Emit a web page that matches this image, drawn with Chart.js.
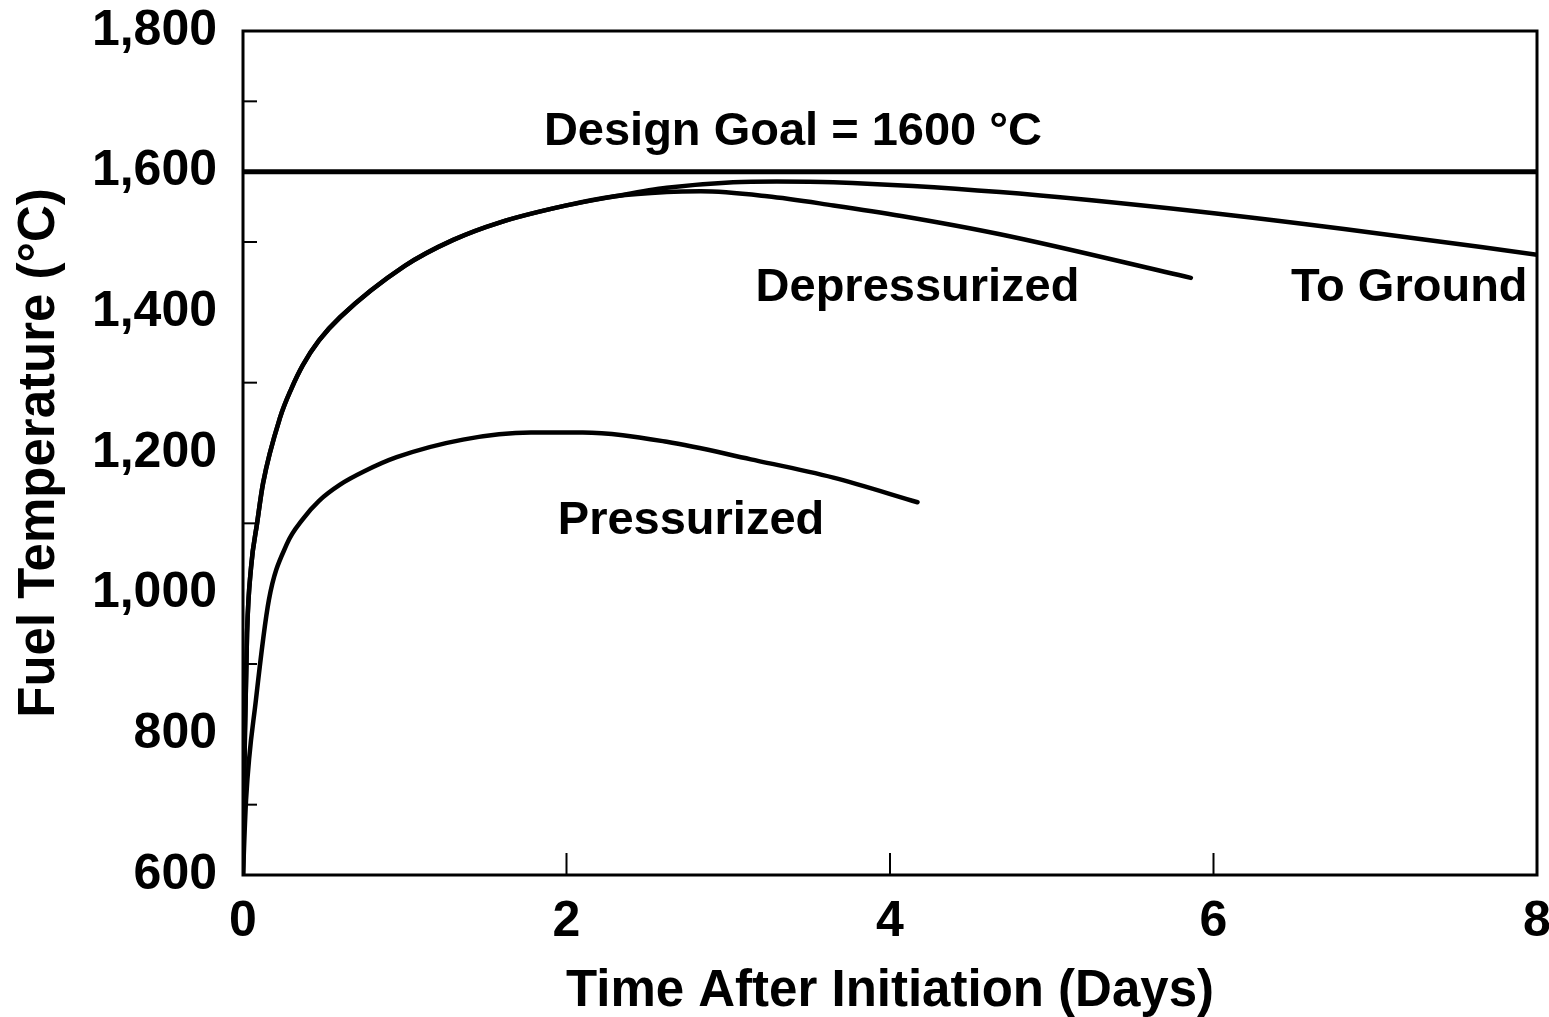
<!DOCTYPE html>
<html>
<head>
<meta charset="utf-8">
<script src="https://cdn.jsdelivr.net/npm/chart.js@4/dist/chart.umd.min.js"></script>
<style>
  html, body { margin: 0; padding: 0; background: #fff; }
  #wrap { width: 1549px; height: 1017px; position: relative; }
</style>
</head>
<body>
<div id="wrap"><canvas id="c" width="1549" height="1017"></canvas></div>
<script>
// ---- data ----
const goalDays = [0, 8];
const goalTemp = [1600, 1600];

const toGroundDays = [0, 0.006, 0.012, 0.025, 0.05, 0.087, 0.124, 0.23, 0.3, 0.37, 0.47, 0.6, 1.0, 1.3, 1.59, 2.0, 2.3, 2.62, 3.03, 3.3, 3.65, 4.68, 5.92, 6.96, 8.0];
const toGroundTemp = [600, 707, 802, 944, 1038, 1100, 1157, 1251, 1292, 1325, 1360, 1393, 1466, 1503, 1528, 1552, 1565, 1577, 1585, 1586, 1585, 1571, 1543, 1514, 1482];

const depressDays = [0, 0.006, 0.012, 0.025, 0.05, 0.087, 0.124, 0.23, 0.3, 0.37, 0.47, 0.6, 1.0, 1.3, 1.59, 2.0, 2.3, 2.62, 2.83, 3.24, 3.65, 4.07, 4.68, 5.86];
const depressTemp = [600, 707, 802, 944, 1038, 1100, 1157, 1251, 1292, 1325, 1360, 1393, 1466, 1503, 1528, 1552, 1565, 1571, 1572, 1565, 1552, 1537, 1511, 1449];

const pressDays = [0, 0.019, 0.08, 0.16, 0.27, 0.37, 0.47, 0.6, 0.75, 0.95, 1.36, 1.78, 2.1, 2.62, 3.14, 3.65, 4.17];
const pressTemp = [600, 707, 849, 991, 1070, 1106, 1132, 1155, 1174, 1194, 1219, 1229, 1229, 1216, 1191, 1165, 1130];

const xTickValues = [0, 2, 4, 6, 8];
const xInnerTicks = [2, 4, 6];
const yTickValues = [600, 800, 1000, 1200, 1400, 1600, 1800];
const yMinorTicks = [700, 900, 1100, 1300, 1500, 1700];

const labelTexts = ["Design Goal = 1600 °C", "Depressurized", "To Ground", "Pressurized"];
const labelDays = [3.40, 4.17, 7.21, 2.77];
const labelTemps = [1656, 1435, 1435, 1103];

const xTitle = "Time After Initiation (Days)";
const yTitle = "Fuel Temperature (°C)";

// ---- build ----
const FONT = "'Liberation Sans', Arial, Helvetica, sans-serif";
function pts(xs, ys) { return xs.map((x, i) => ({ x: x, y: ys[i] })); }

const framePlugin = {
  id: 'frame',
  afterDatasetsDraw(chart) {
    const { ctx, chartArea: a, scales } = chart;
    ctx.save();
    ctx.strokeStyle = '#000';
    ctx.lineWidth = 2;
    yMinorTicks.forEach(v => {
      const y = scales.y.getPixelForValue(v);
      ctx.beginPath(); ctx.moveTo(a.left, y); ctx.lineTo(a.left + 14, y); ctx.stroke();
    });
    xInnerTicks.forEach(v => {
      const x = scales.x.getPixelForValue(v);
      ctx.beginPath(); ctx.moveTo(x, a.bottom); ctx.lineTo(x, a.bottom - 22); ctx.stroke();
    });
    ctx.lineWidth = 3;
    ctx.strokeRect(a.left, a.top, a.right - a.left, a.bottom - a.top);
    ctx.fillStyle = '#000';
    ctx.font = 'bold 47px ' + FONT;
    ctx.textAlign = 'center';
    ctx.textBaseline = 'middle';
    labelTexts.forEach((t, i) => {
      ctx.fillText(t, scales.x.getPixelForValue(labelDays[i]), scales.y.getPixelForValue(labelTemps[i]));
    });
    ctx.restore();
  }
};

const lineDefaults = { borderColor: '#000', pointRadius: 0, fill: false, cubicInterpolationMode: 'monotone', borderCapStyle: 'round', borderJoinStyle: 'round' };

new Chart(document.getElementById('c'), {
  type: 'line',
  data: {
    datasets: [
      Object.assign({ label: 'Design Goal', data: pts(goalDays, goalTemp), borderWidth: 5, tension: 0 }, lineDefaults),
      Object.assign({ label: 'To Ground', data: pts(toGroundDays, toGroundTemp), borderWidth: 4.5 }, lineDefaults),
      Object.assign({ label: 'Depressurized', data: pts(depressDays, depressTemp), borderWidth: 4.5 }, lineDefaults),
      Object.assign({ label: 'Pressurized', data: pts(pressDays, pressTemp), borderWidth: 4.5 }, lineDefaults)
    ]
  },
  options: {
    responsive: false,
    animation: false,
    layout: { padding: { top: 31, right: 12, left: 0, bottom: 0 } },
    plugins: { legend: { display: false }, tooltip: { enabled: false } },
    scales: {
      x: {
        type: 'linear', min: 0, max: 8,
        afterBuildTicks: s => { s.ticks = xTickValues.map(v => ({ value: v })); },
        afterFit: s => { s.height = 142; s.paddingLeft = 0; s.paddingRight = 0; },
        grid: { display: false },
        border: { display: false },
        ticks: { color: '#000', padding: 9, maxRotation: 0, font: { family: FONT, size: 50, weight: 'bold' } },
        title: { display: true, text: xTitle, color: '#000', font: { family: FONT, size: 51, weight: 'bold', lineHeight: 1.0 }, padding: { top: 0, bottom: 0 } }
      },
      y: {
        type: 'linear', min: 600, max: 1800,
        afterBuildTicks: s => { s.ticks = yTickValues.map(v => ({ value: v })); },
        afterFit: s => { s.width = 243; s.paddingTop = 0; s.paddingBottom = 0; },
        grid: { display: false },
        border: { display: false },
        ticks: { color: '#000', padding: 18, font: { family: FONT, size: 50, weight: 'bold' },
          callback: v => v.toLocaleString('en-US') },
        title: { display: true, text: yTitle, color: '#000', font: { family: FONT, size: 51, weight: 'bold', lineHeight: 1.0 }, padding: { top: 14, bottom: 0 } }
      }
    }
  },
  plugins: [framePlugin]
});
</script>
</body>
</html>
